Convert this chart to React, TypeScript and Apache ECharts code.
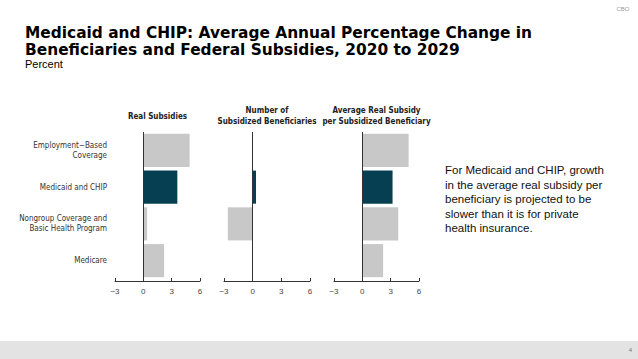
import React, { useEffect, useRef } from "react";
import * as echarts from "echarts";

const categories = [
  "Employment\u2212Based\nCoverage",
  "Medicaid and CHIP",
  "Nongroup Coverage and\nBasic Health Program",
  "Medicare",
];
const realSubsidies = [4.9, 3.6, 0.4, 2.2];
const subsidizedBeneficiaries = [0, 0.35, -2.6, 0];
const avgSubsidyPerBeneficiary = [4.9, 3.2, 3.8, 2.2];
const panelTitles = [
  "Real Subsidies",
  "Number of\nSubsidized Beneficiaries",
  "Average Real Subsidy\nper Subsidized Beneficiary",
];
const titleLines = [
  "Medicaid and CHIP: Average Annual Percentage Change in",
  "Beneficiaries and Federal Subsidies, 2020 to 2029",
];
const highlightIndex = 1;

const DARK = "#073f52";
const GRAY = "#c8c8c8";
const AXIS = "#333333";
const NARROW = "'Liberation Sans Narrow', 'DejaVu Sans Condensed', Arial, sans-serif";

export default function App() {
  const ref = useRef<HTMLDivElement>(null);
  useEffect(() => {
    if (!ref.current) return;
    const chart = echarts.init(ref.current, undefined, { renderer: "svg" });
    const grids = [
      { left: 115, width: 85, top: 132, height: 147 },
      { left: 224, width: 86, top: 132, height: 147 },
      { left: 334, width: 85, top: 132, height: 147 },
    ];
    const seriesData = [realSubsidies, subsidizedBeneficiaries, avgSubsidyPerBeneficiary];
    const option: any = {
      animation: false,
      backgroundColor: "#ffffff",
      grid: grids.map((g) => ({ ...g, containLabel: false })),
      xAxis: grids.map((_, i) => ({
        type: "value",
        gridIndex: i,
        min: -3,
        max: 6,
        interval: 3,
        offset: 2,
        splitLine: { show: false },
        axisLine: { show: true, onZero: false, lineStyle: { color: AXIS, width: 1 } },
        axisTick: { show: true, inside: true, length: 3, lineStyle: { color: AXIS } },
        axisLabel: {
          color: "#444",
          fontSize: 8,
          fontFamily: "'Liberation Sans', Arial, sans-serif",
          margin: 6,
          formatter: (v: number) => String(v).replace("-", "\u2212"),
        },
      })),
      yAxis: grids.map((_, i) => ({
        type: "category",
        gridIndex: i,
        data: categories,
        inverse: true,
        axisLine: { show: false },
        axisTick: { show: false },
        axisLabel: {
          show: i === 0,
          color: AXIS,
          fontSize: 8,
          lineHeight: 10,
          fontFamily: NARROW,
          margin: 8,
          align: "right",
        },
      })),
      series: seriesData.map((d, i) => ({
        type: "bar",
        xAxisIndex: i,
        yAxisIndex: i,
        data: d,
        barCategoryGap: "10%",
        itemStyle: {
          color: (p: any) => (p.dataIndex === highlightIndex ? DARK : GRAY),
        },
        markLine: {
          silent: true,
          symbol: "none",
          label: { show: false },
          lineStyle: { color: AXIS, width: 1, type: "solid" },
          data: [{ xAxis: 0 }],
        },
      })),
      graphic: [
        ...titleLines.map((t, i) => ({
          type: "text",
          x: 25,
          y: 33 + i * 16.7,
          style: {
            text: t,
            fill: "#000",
            font: "bold 15.4px 'DejaVu Sans', sans-serif",
            verticalAlign: "middle",
          },
        })),
        {
          type: "text",
          x: 25,
          y: 63.5,
          style: {
            text: "Percent",
            fill: "#000",
            font: "11px 'Liberation Sans', Arial, sans-serif",
            verticalAlign: "middle",
          },
        },
        ...panelTitles.map((t, i) => ({
          type: "text",
          x: grids[i].left + grids[i].width / 2,
          y: t.includes("\n") ? 105 : 111,
          style: {
            text: t,
            fill: "#222",
            font: `bold 8px ${NARROW}`,
            lineHeight: 11,
            textAlign: "center",
          },
        })),
        {
          type: "text",
          x: 445,
          y: 163,
          style: {
            text:
              "For Medicaid and CHIP, growth\nin the average real subsidy per\nbeneficiary is projected to be\nslower than it is for private\nhealth insurance.",
            fill: "#111",
            font: "11.5px 'Liberation Sans', Arial, sans-serif",
            lineHeight: 14.5,
          },
        },
        {
          type: "text",
          x: 623,
          y: 6,
          style: {
            text: "CBO",
            fill: "#999",
            font: "6px 'Liberation Sans', Arial, sans-serif",
            textAlign: "center",
          },
        },
        {
          type: "rect",
          shape: { x: 0, y: 341, width: 638, height: 18 },
          style: { fill: "#e3e3e3" },
        },
        {
          type: "text",
          x: 632,
          y: 347,
          style: {
            text: "4",
            fill: "#777",
            font: "6px 'Liberation Sans', Arial, sans-serif",
            textAlign: "right",
          },
        },
      ],
    };
    chart.setOption(option);
    return () => chart.dispose();
  }, []);
  return (
    <div
      ref={ref}
      style={{ position: "absolute", left: 0, top: 0, width: 638, height: 359 }}
    />
  );
}
